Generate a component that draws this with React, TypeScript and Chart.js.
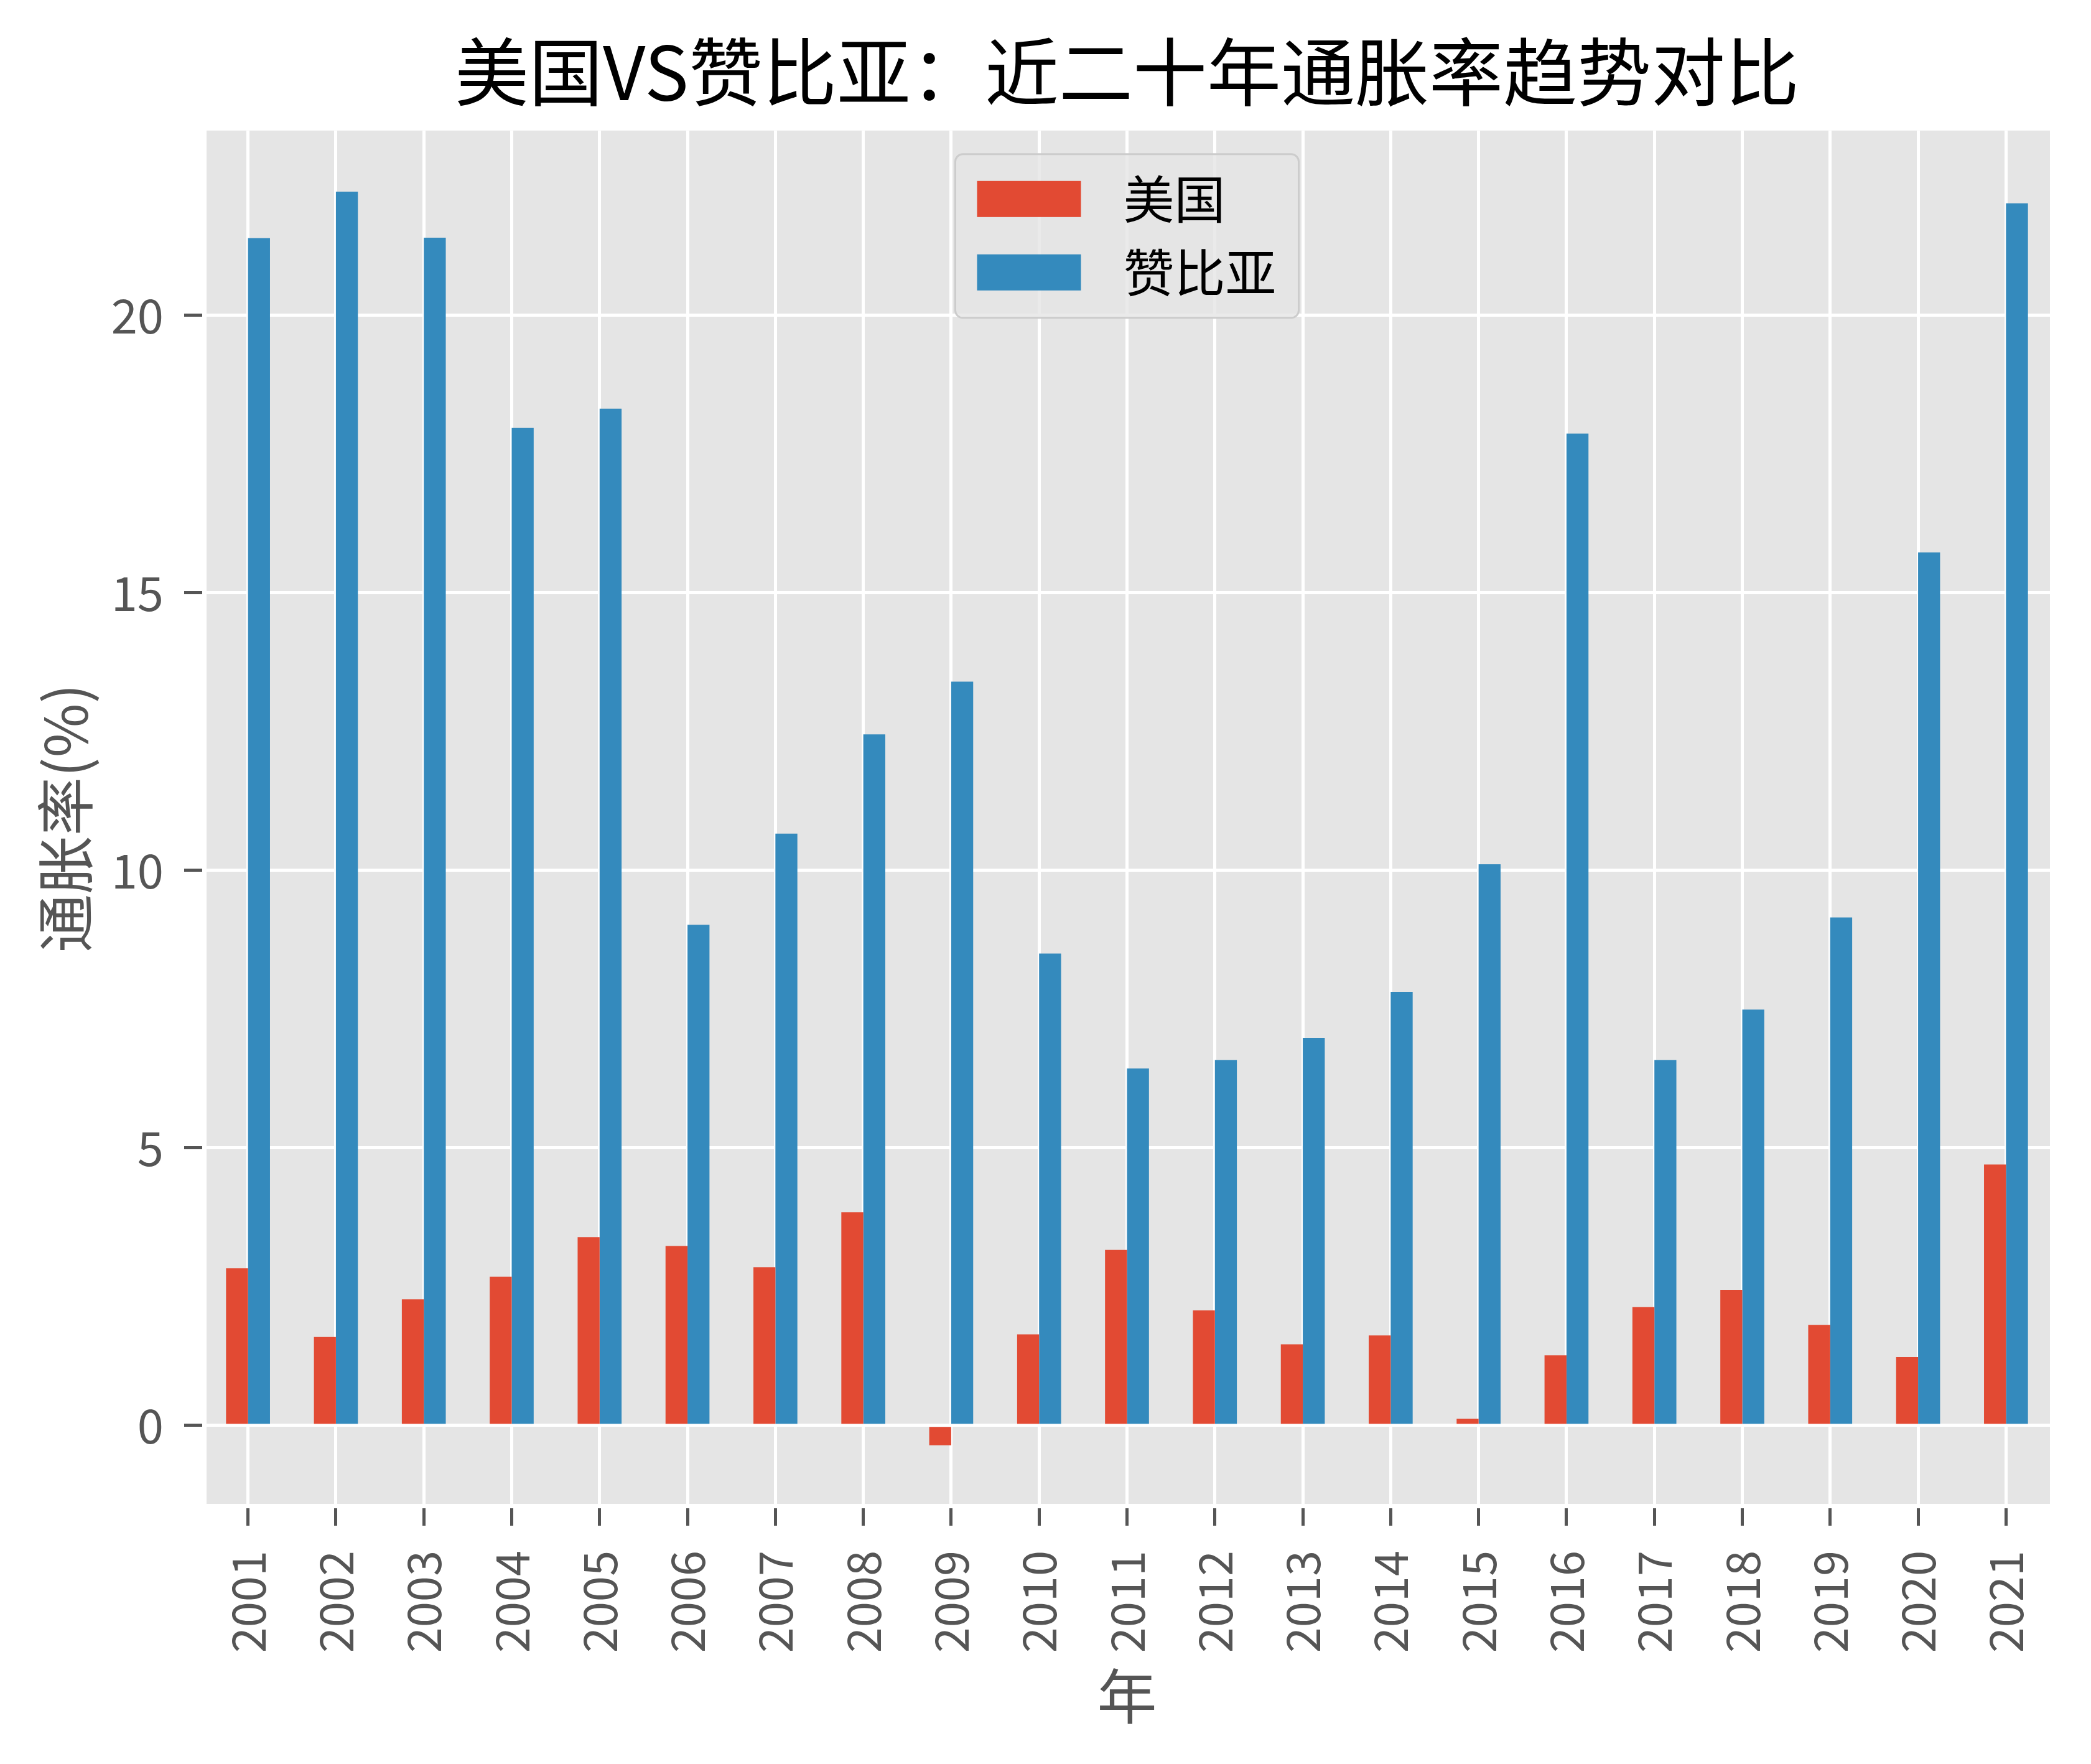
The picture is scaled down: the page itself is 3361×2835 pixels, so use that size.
import { useEffect, useRef } from 'react';
import { Chart, registerables } from 'chart.js';

Chart.register(...registerables);

const FONT = "'Noto Sans CJK SC', 'Noto Sans', sans-serif";

// Annual CPI inflation (%), 2001–2021
const years = [
  '2001', '2002', '2003', '2004', '2005', '2006', '2007', '2008', '2009', '2010', '2011',
  '2012', '2013', '2014', '2015', '2016', '2017', '2018', '2019', '2020', '2021',
];
const usInflation = [
  2.83, 1.59, 2.27, 2.68, 3.39, 3.23, 2.85, 3.84, -0.36, 1.64, 3.16,
  2.07, 1.46, 1.62, 0.12, 1.26, 2.13, 2.44, 1.81, 1.23, 4.7,
];
const zambiaInflation = [
  21.39, 22.23, 21.4, 17.97, 18.32, 9.02, 10.66, 12.45, 13.4, 8.5, 6.43,
  6.58, 6.98, 7.81, 10.11, 17.87, 6.58, 7.49, 9.15, 15.73, 22.02,
];
const seriesNames = ['美国', '赞比亚'];
const seriesColors = ['#E24A33', '#348ABD'];
const yTickValues = [0, 5, 10, 15, 20];

const TEXT_GRAY = '#555555';

// Fills the page white and the plotting area with the light grey panel
const panelBackground = {
  id: 'panelBackground',
  beforeDraw(chart: any) {
    const { ctx, chartArea: a, width, height } = chart;
    ctx.save();
    ctx.fillStyle = '#ffffff';
    ctx.fillRect(0, 0, width, height);
    ctx.fillStyle = '#E5E5E5';
    ctx.fillRect(a.left, a.top, a.right - a.left, a.bottom - a.top);
    ctx.restore();
  },
};

// Framed legend placed at the upper centre of the plotting area
const framedLegend = {
  id: 'framedLegend',
  afterDatasetsDraw(chart: any) {
    const { ctx, chartArea: a } = chart;
    const w = 552;
    const h = 263;
    const x = (a.left + a.right) / 2 - w / 2;
    const y = a.top + 38;
    ctx.save();
    ctx.beginPath();
    ctx.roundRect(x, y, w, h, 12);
    ctx.fillStyle = 'rgba(229,229,229,0.8)';
    ctx.fill();
    ctx.lineWidth = 3;
    ctx.strokeStyle = '#CCCCCC';
    ctx.stroke();
    ctx.font = `82px ${FONT}`;
    ctx.textBaseline = 'middle';
    ctx.textAlign = 'left';
    chart.data.datasets.forEach((ds: any, i: number) => {
      const rowTop = y + 43 + i * 118;
      ctx.fillStyle = ds.backgroundColor;
      ctx.fillRect(x + 35, rowTop, 167, 58);
      ctx.fillStyle = '#000000';
      ctx.fillText(ds.label, x + 270, rowTop + 29);
    });
    ctx.restore();
  },
};

export default function App() {
  const canvasRef = useRef<HTMLCanvasElement>(null);

  useEffect(() => {
    const canvas = canvasRef.current;
    if (!canvas) return;
    const chart = new Chart(canvas, {
      type: 'bar',
      data: {
        labels: years,
        datasets: [
          {
            label: seriesNames[0],
            data: usInflation,
            backgroundColor: seriesColors[0],
            categoryPercentage: 0.5,
            barPercentage: 1.0,
          },
          {
            label: seriesNames[1],
            data: zambiaInflation,
            backgroundColor: seriesColors[1],
            categoryPercentage: 0.5,
            barPercentage: 1.0,
          },
        ],
      },
      options: {
        responsive: false,
        animation: false,
        devicePixelRatio: 1,
        layout: { padding: { left: 0, right: 66, top: 0, bottom: 0 } },
        plugins: {
          legend: { display: false },
          tooltip: { enabled: false },
          title: {
            display: true,
            fullSize: false,
            text: '美国VS赞比亚：近二十年通胀率趋势对比',
            color: '#000000',
            font: { family: FONT, size: 119, weight: 'normal', lineHeight: 1.2 },
            padding: { top: 44, bottom: 23 },
          },
        },
        scales: {
          x: {
            type: 'category',
            offset: true,
            grid: {
              offset: false,
              color: '#ffffff',
              lineWidth: 5,
              tickColor: TEXT_GRAY,
              tickLength: 32,
              tickWidth: 5,
            },
            border: { display: true, color: '#ffffff', width: 7 },
            ticks: {
              minRotation: 90,
              maxRotation: 90,
              autoSkip: false,
              padding: 40,
              color: TEXT_GRAY,
              font: { family: FONT, size: 74 },
            },
            title: {
              display: true,
              text: '年',
              color: TEXT_GRAY,
              font: { family: FONT, size: 96, lineHeight: 1.2 },
              padding: { top: 0, bottom: 52 },
            },
            afterFit(scale: any) {
              scale.height = 415;
            },
          },
          y: {
            type: 'linear',
            min: -1.45,
            max: 23.33,
            afterBuildTicks(scale: any) {
              scale.ticks = yTickValues.map((v) => ({ value: v }));
            },
            grid: {
              color: '#ffffff',
              lineWidth: 5,
              tickColor: TEXT_GRAY,
              tickLength: 32,
              tickWidth: 5,
            },
            border: { display: true, color: '#ffffff', width: 7 },
            ticks: {
              padding: 33,
              color: TEXT_GRAY,
              font: { family: FONT, size: 76 },
            },
            title: {
              display: true,
              text: '通胀率(%)',
              color: TEXT_GRAY,
              font: { family: FONT, size: 94, lineHeight: 1.2 },
              padding: { top: 49, bottom: 0 },
            },
            afterFit(scale: any) {
              scale.width = 328;
            },
          },
        },
      },
      plugins: [panelBackground, framedLegend],
    });
    return () => chart.destroy();
  }, []);

  return (
    <div
      style={{
        position: 'fixed',
        left: 0,
        top: 0,
        width: 3361,
        height: 2835,
        background: '#ffffff',
      }}
    >
      <canvas
        ref={canvasRef}
        width={3361}
        height={2835}
        style={{ display: 'block', width: 3361, height: 2835 }}
      />
    </div>
  );
}
